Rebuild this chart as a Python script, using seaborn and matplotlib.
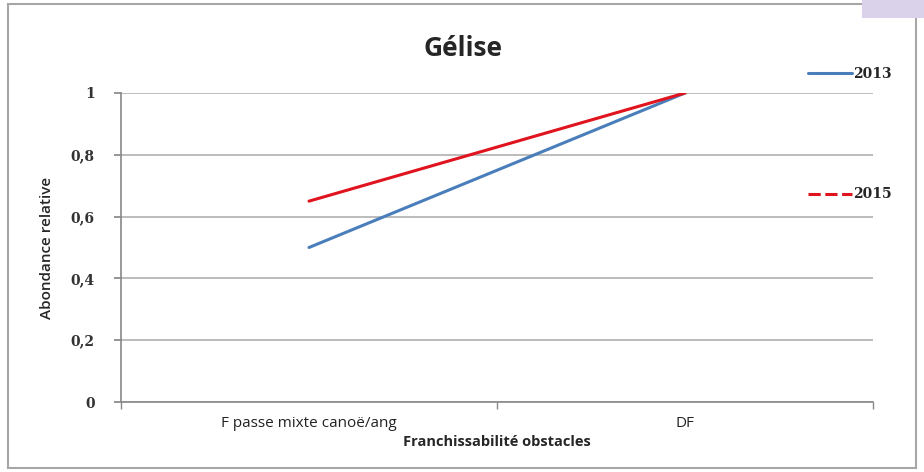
import pandas as pd
import matplotlib.pyplot as plt
import seaborn as sns
from matplotlib.lines import Line2D
from matplotlib.patches import Rectangle

sns.set_theme(style="white")
plt.rcParams["font.family"] = ["Open Sans", "DejaVu Sans"]

categories = ["F passe mixte canoë/ang", "DF"]
values_2013 = [0.5, 1.0]
values_2015 = [0.65, 1.0]
years = ["2013", "2015"]
yticks = [0, 0.2, 0.4, 0.6, 0.8, 1]
ytick_labels = ["0", "0,2", "0,4", "0,6", "0,8", "1"]

df = pd.DataFrame({
    "cat": categories * 2,
    "val": values_2013 + values_2015,
    "year": [years[0]] * 2 + [years[1]] * 2,
})
df["x"] = df["cat"].map({c: i for i, c in enumerate(categories)})

colors = {"2013": "#4a7ebb", "2015": "#e0141e"}

fig = plt.figure(figsize=(9.24, 4.72), dpi=100)
fig.patch.set_facecolor("white")
# outer chart frame
fig.add_artist(Rectangle((8 / 924, 4 / 472), 908 / 924, 464 / 472, transform=fig.transFigure,
                         fill=False, edgecolor="#a6a6a6", linewidth=1.5))
fig.add_artist(Rectangle((862 / 924, 454 / 472), 62 / 924, 18 / 472, transform=fig.transFigure,
                         facecolor="#d9d2ea", edgecolor="none"))

ax = fig.add_axes([121 / 924, 70 / 472, 752 / 924, 309 / 472])
sns.lineplot(data=df, x="x", y="val", hue="year", palette=colors, linewidth=2.2,
             legend=False, ax=ax)

ax.set_xlim(-0.5, 1.5)
ax.set_ylim(0, 1)
ax.set_yticks(yticks)
ax.set_yticklabels(ytick_labels, fontsize=10, fontweight="bold", family="DejaVu Serif", color="#333333")
ax.set_xticks([0, 1])
ax.set_xticklabels(categories, fontsize=11, color="#222222")
ax.set_xticks([-0.5, 0.5, 1.5], minor=True)
ax.tick_params(axis="x", which="major", length=0, pad=10)
ax.tick_params(axis="x", which="minor", length=5, color="#888888", direction="out", bottom=True)
ax.tick_params(axis="y", length=5, color="#888888", direction="out", left=True, pad=14)
ax.yaxis.grid(True, color="#b0b0b0", linewidth=1.2)
ax.set_axisbelow(True)
for side in ["top", "right"]:
    ax.spines[side].set_visible(False)
for side in ["left", "bottom"]:
    ax.spines[side].set_color("#888888")
    ax.spines[side].set_linewidth(1.2)

ax.set_xlabel("Franchissabilité obstacles", fontsize=10.5, fontweight="bold", labelpad=3)
ax.set_ylabel("Abondance relative", fontsize=11, fontweight="semibold", labelpad=12)
fig.text(463 / 924, 1 - 48 / 472, "Gélise", ha="center", va="center", fontsize=19, fontweight="bold")

handles = [Line2D([0], [0], color=colors["2013"], linewidth=2.2),
           Line2D([0], [0], color=colors["2015"], linewidth=2.2, linestyle=(0, (4, 1.5)))]
fig.legend(handles, years, loc="upper left", bbox_to_anchor=(795 / 924, 1 - 54 / 472),
           frameon=False, handlelength=3.2, handletextpad=0.05, labelspacing=7.7,
           prop={"family": "DejaVu Serif", "weight": "bold", "size": 10})

plt.savefig("out.png", dpi=100)
